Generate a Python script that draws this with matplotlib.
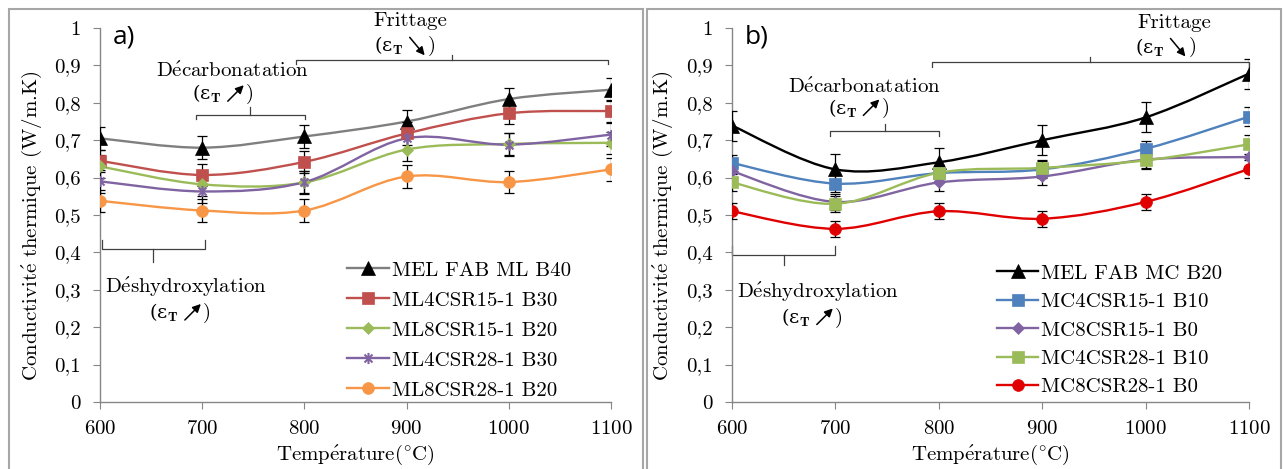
import numpy as np
import matplotlib
matplotlib.use('Agg')
import matplotlib.pyplot as plt
from matplotlib.path import Path
from matplotlib.patches import PathPatch, Rectangle
from matplotlib.lines import Line2D
from matplotlib.transforms import offset_copy

# police proche de Computer Modern
plt.rcParams['font.family'] = ['cmr10', 'DejaVu Serif']
plt.rcParams['mathtext.fontset'] = 'cm'
plt.rcParams['axes.formatter.use_mathtext'] = True
plt.rcParams['font.size'] = 15

# données
temperatures = [600, 700, 800, 900, 1000, 1100]
ytick_vals = [0, 0.1, 0.2, 0.3, 0.4, 0.5, 0.6, 0.7, 0.8, 0.9, 1]
ytick_labels = ['0', '0,1', '0,2', '0,3', '0,4', '0,5', '0,6', '0,7', '0,8', '0,9', '1']

# textes (accents en mathtext pour rester en cmr10)
e_acute = r'$\mathrm{\acute{e}}$'
txt_ylabel = 'Conductivit' + e_acute + ' thermique (W/m.K)'
txt_xlabel = 'Temp' + e_acute + r'rature(${}^{\circ}$C)'
txt_frit = 'Frittage'
txt_decarb = 'D' + e_acute + 'carbonatation'
txt_deshyd = 'D' + e_acute + 'shydroxylation'
txt_eps = '(ε$_{\\mathbf{T}}$'

# panneau a)
labels_a = ['MEL FAB ML B40', 'ML4CSR15-1 B30', 'ML8CSR15-1 B20', 'ML4CSR28-1 B30', 'ML8CSR28-1 B20']
mel_ml = [0.705, 0.680, 0.710, 0.750, 0.810, 0.835]
ml4_15 = [0.645, 0.607, 0.642, 0.718, 0.772, 0.778]
ml8_15 = [0.630, 0.582, 0.587, 0.675, 0.690, 0.693]
ml4_28 = [0.590, 0.563, 0.588, 0.705, 0.688, 0.715]
ml8_28 = [0.538, 0.512, 0.512, 0.603, 0.588, 0.622]
err_a = [0.03, 0.03, 0.03, 0.03, 0.03, 0.03]

# panneau b)
labels_b = ['MEL FAB MC B20', 'MC4CSR15-1 B10', 'MC8CSR15-1 B0', 'MC4CSR28-1 B10', 'MC8CSR28-1 B0']
mel_mc = [0.739, 0.622, 0.641, 0.700, 0.761, 0.878]
mc4_15 = [0.639, 0.584, 0.612, 0.622, 0.677, 0.763]
mc8_15 = [0.617, 0.535, 0.587, 0.603, 0.648, 0.655]
mc4_28 = [0.587, 0.530, 0.613, 0.626, 0.646, 0.689]
mc8_28 = [0.510, 0.463, 0.510, 0.490, 0.535, 0.623]
err_mel_mc = [0.04, 0.04, 0.037, 0.04, 0.04, 0.04]
err_mc = [0.022, 0.022, 0.022, 0.022, 0.022, 0.025]

# marqueur étoile façon Excel
star = Path([(0, -1), (0, 1), (-0.72, -0.72), (0.72, 0.72), (-0.72, 0.72), (0.72, -0.72)],
            [Path.MOVETO, Path.LINETO, Path.MOVETO, Path.LINETO, Path.MOVETO, Path.LINETO])

series_a = [
    (mel_ml, err_a, '#7F7F7F', 'black', '^', 9.5),
    (ml4_15, err_a, '#C0504D', '#C0504D', 's', 8),
    (ml8_15, err_a, '#9BBB59', '#9BBB59', 'D', 6.5),
    (ml4_28, err_a, '#8064A2', '#8064A2', star, 8),
    (ml8_28, err_a, '#F79646', '#F79646', 'o', 8.5),
]
series_b = [
    (mel_mc, err_mel_mc, 'black', 'black', '^', 9.5),
    (mc4_15, err_mc, '#4F81BD', '#4F81BD', 's', 8),
    (mc8_15, err_mc, '#8064A2', '#8064A2', 'D', 6.5),
    (mc4_28, err_mc, '#9BBB59', '#9BBB59', 's', 8),
    (mc8_28, err_mc, '#E00000', '#E00000', 'o', 8.5),
]


def courbe_lisse(x, y):
    # courbe lissée type Excel (Bézier de Catmull-Rom)
    pts = np.column_stack([x, y]).astype(float)
    n = len(pts)
    verts = [pts[0]]
    codes = [Path.MOVETO]
    for i in range(n - 1):
        p0 = pts[max(i - 1, 0)]
        p1 = pts[i]
        p2 = pts[i + 1]
        p3 = pts[min(i + 2, n - 1)]
        verts += [p1 + (p2 - p0) / 6, p2 - (p3 - p1) / 6, p2]
        codes += [Path.CURVE4] * 3
    return Path(verts, codes)


fig = plt.figure(figsize=(12.84, 4.69), dpi=100)

# cadres des deux panneaux
for x0 in (9, 647):
    fig.patches.append(Rectangle((x0 / 1284, -0.02), 634 / 1284, 1.02 - 9 / 469,
                                 transform=fig.transFigure, fill=False,
                                 edgecolor='#A6A6A6', lw=1.5))

ax_a = fig.add_axes([100 / 1284, 1 - 402 / 469, 511 / 1284, 374 / 469])
ax_b = fig.add_axes([732 / 1284, 1 - 402 / 469, 517 / 1284, 374 / 469])


def bracket(ax, x0, x1, y, xc, up_end, up_mid):
    # accolade horizontale
    ax.plot([x0, x0, x1, x1], [y + up_end, y, y, y + up_end], color='#404040', lw=0.9, clip_on=False)
    ax.plot([xc, xc], [y, y + up_mid], color='#404040', lw=0.9, clip_on=False)


def eps_label(ax, x, y, up):
    ax.text(x, y, txt_eps, ha='right', va='center', family='DejaVu Serif', fontsize=14,
            transform=offset_copy(ax.transData, fig=fig, x=-7, y=0, units='dots'))
    ax.text(x, y, ')', ha='left', va='center',
            transform=offset_copy(ax.transData, fig=fig, x=17, y=0, units='dots'))
    if up:
        start, end = (-1, -7), (15, 9)
    else:
        start, end = (-1, 9), (14, -9)
    ax.annotate('', xy=(x, y), xycoords=offset_copy(ax.transData, fig=fig, x=end[0], y=end[1], units='dots'),
                xytext=(x, y), textcoords=offset_copy(ax.transData, fig=fig, x=start[0], y=start[1], units='dots'),
                arrowprops=dict(arrowstyle='-|>', color='black', lw=1.1, mutation_scale=12,
                                shrinkA=0, shrinkB=0))


def panneau(ax, series, labels, lettre, leg_x, leg_y, leg_sp):
    handles = []
    for (vals, err, lc, mc, mk, ms), lab in zip(series, labels):
        ax.add_patch(PathPatch(courbe_lisse(temperatures, vals), fill=False, edgecolor=lc, lw=1.7, zorder=2))
        ax.errorbar(temperatures, vals, yerr=err, fmt='none', ecolor='black', elinewidth=0.9,
                    capsize=3.5, capthick=0.9, zorder=3)
        ax.plot(temperatures, vals, linestyle='none', marker=mk, ms=ms, color=mc, mec=mc,
                mew=1.5 if mk is star else 0.5, zorder=4)
        handles.append(Line2D([], [], color=lc, lw=1.7, marker=mk, ms=ms, mfc=mc, mec=mc,
                              mew=1.5 if mk is star else 0.5))

    ax.set_xlim(600, 1100)
    ax.set_ylim(0, 1)
    ax.set_xticks(temperatures)
    ax.set_yticks(ytick_vals)
    ax.set_yticklabels(ytick_labels)
    for s in ('top', 'right'):
        ax.spines[s].set_visible(False)
    for s in ('left', 'bottom'):
        ax.spines[s].set_color('#868686')
        ax.spines[s].set_linewidth(1.0)
    ax.tick_params(axis='both', direction='out', length=5, color='#868686', labelsize=15)
    ax.tick_params(axis='y', pad=9)
    ax.tick_params(axis='x', pad=8)

    ax.set_ylabel(txt_ylabel, fontsize=15)
    ax.yaxis.set_label_coords(-0.133, 0.47)
    ax.yaxis.label.set_va('center')
    ax.set_xlabel(txt_xlabel, fontsize=15)
    ax.xaxis.set_label_coords(0.5, -0.142)
    ax.xaxis.label.set_va('center')

    ax.text(0.025, 0.975, lettre, transform=ax.transAxes, family='Open Sans', fontsize=19,
            ha='left', va='center')

    ax.legend(handles, labels, loc='upper left', bbox_to_anchor=(leg_x, leg_y),
              bbox_transform=ax.transData, frameon=False, fontsize=15, handlelength=2.0,
              handletextpad=0.15, labelspacing=leg_sp, borderpad=0, borderaxespad=0)


panneau(ax_a, series_a, labels_a, 'a)', 842, 0.377, 0.55)
panneau(ax_b, series_b, labels_b, 'b)', 856, 0.369, 0.475)

# annotations panneau a)
bracket(ax_a, 792, 1097, 0.915, 944, -0.01, 0.012)
ax_a.text(904, 1.02, txt_frit, ha='center', va='center')
eps_label(ax_a, 904, 0.951, False)
bracket(ax_a, 694, 801, 0.768, 747, -0.01, 0.022)
ax_a.text(730, 0.884, txt_decarb, ha='center', va='center')
eps_label(ax_a, 726, 0.823, True)
bracket(ax_a, 602, 703, 0.409, 652, 0.024, -0.034)
ax_a.text(684, 0.308, txt_deshyd, ha='center', va='center')
eps_label(ax_a, 684, 0.238, True)

# annotations panneau b)
bracket(ax_b, 793, 1100, 0.909, 946, -0.012, 0.013)
ax_b.text(1028, 1.013, txt_frit, ha='center', va='center')
eps_label(ax_b, 1025, 0.948, False)
bracket(ax_b, 695, 800, 0.724, 748, -0.013, 0.019)
ax_b.text(728, 0.842, txt_decarb, ha='center', va='center')
eps_label(ax_b, 728, 0.785, True)
bracket(ax_b, 600, 700, 0.394, 650, 0.024, -0.028)
ax_b.text(683, 0.293, txt_deshyd, ha='center', va='center')
eps_label(ax_b, 683, 0.226, True)

fig.savefig('out.png', dpi=100)
